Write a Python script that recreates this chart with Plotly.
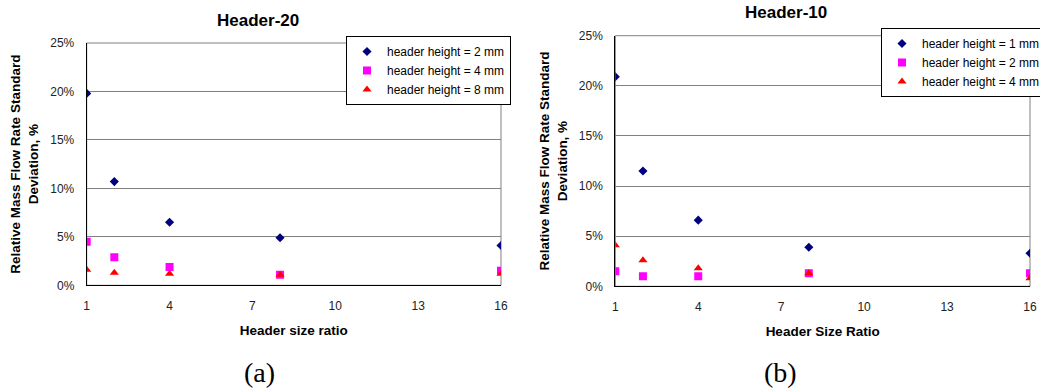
import plotly.graph_objects as go

# Header size ratio (x positions shared by both panels)
size_ratio = [1, 2, 4, 8, 16]

# Panel (a): Header-20, relative mass flow rate standard deviation (fraction)
h20_names = ["header height = 2 mm", "header height = 4 mm", "header height = 8 mm"]
h20_2mm = [0.198, 0.107, 0.065, 0.049, 0.041]
h20_4mm = [0.045, 0.029, 0.019, 0.011, 0.015]
h20_8mm = [0.016, 0.013, 0.012, 0.011, 0.012]

# Panel (b): Header-10
h10_names = ["header height = 1 mm", "header height = 2 mm", "header height = 4 mm"]
h10_1mm = [0.209, 0.115, 0.066, 0.039, 0.033]
h10_2mm = [0.015, 0.010, 0.010, 0.013, 0.013]
h10_4mm = [0.041, 0.026, 0.018, 0.013, 0.008]

x_ticks = [1, 4, 7, 10, 13, 16]

FONT = "Liberation Sans, Arial, sans-serif"
SERIF = "Liberation Serif, Times New Roman, serif"
W, H = 1040, 392

marker_styles = [
    dict(symbol="diamond", color="#000080", size=7),
    dict(symbol="square", color="#FF00FF", size=8),
    dict(symbol="triangle-up", color="#FF0000", size=8),
]

fig = go.Figure()


def add_panel(series, names, xa, ya, legend):
    for i, (vals, name) in enumerate(zip(series, names)):
        fig.add_trace(go.Scatter(
            x=size_ratio, y=vals, mode="markers", name=name,
            marker=dict(symbol=marker_styles[i]["symbol"],
                        color=marker_styles[i]["color"],
                        size=marker_styles[i]["size"],
                        line=dict(width=0)),
            xaxis=xa, yaxis=ya, legend=legend,
            legendgroup=f"{legend}_{i}",
        ))


add_panel([h20_2mm, h20_4mm, h20_8mm], h20_names, "x", "y", "legend")
add_panel([h10_1mm, h10_2mm, h10_4mm], h10_names, "x2", "y2", "legend2")

# Plot-area pixel boxes
left_box = (86.7, 501.0, 43.0, 285.3)
right_box = (615.3, 1030.0, 35.7, 286.3)


def xdom(b):
    return [b[0] / W, b[1] / W]


def ydom(b):
    return [1 - b[3] / H, 1 - b[2] / H]


tick_font = dict(family=FONT, size=12, color="#222222")
title_font = dict(family=FONT, size=13.5, color="black")

common_x = dict(range=[1, 16], tickvals=x_ticks, showgrid=False, zeroline=False,
                showline=True, linecolor="black", linewidth=1,
                tickfont=tick_font, ticks="", ticklabelstandoff=9,
                title_font=title_font, title_standoff=13, fixedrange=True)
common_y = dict(range=[0, 0.25], dtick=0.05, tickformat=".0%", showgrid=True,
                gridcolor="#808080", gridwidth=1, zeroline=False,
                showline=True, linecolor="black", linewidth=1,
                tickfont=tick_font, ticks="", ticklabelstandoff=9,
                title_font=title_font, title_standoff=8, fixedrange=True)

ytitle = "<b>Relative Mass Flow Rate Standard<br>Deviation, %</b>"
legend_font = dict(family=FONT, size=12, color="black")

fig.update_layout(
    width=W, height=H,
    margin=dict(l=0, r=0, t=0, b=0, autoexpand=False),
    paper_bgcolor="white", plot_bgcolor="white",
    font=dict(family=FONT),
    xaxis=dict(common_x, domain=xdom(left_box), anchor="y",
               title_text="<b>Header size ratio</b>"),
    yaxis=dict(common_y, domain=ydom(left_box), anchor="x", title_text=ytitle),
    xaxis2=dict(common_x, domain=xdom(right_box), anchor="y2",
                title_text="<b>Header Size Ratio</b>"),
    yaxis2=dict(common_y, domain=ydom(right_box), anchor="x2", title_text=ytitle),
    legend=dict(x=511 / W, y=1 - 36 / H, xanchor="right", yanchor="top",
                bgcolor="white", bordercolor="black", borderwidth=1,
                font=legend_font, tracegroupgap=0, itemwidth=30),
    legend2=dict(x=1046 / W, y=1 - 28 / H, xanchor="right", yanchor="top",
                 bgcolor="white", bordercolor="black", borderwidth=1,
                 font=legend_font, tracegroupgap=0, itemwidth=30),
    showlegend=True,
)

# Gray plot-area frame on top and right sides
for xr, yr in (("x domain", "y domain"), ("x2 domain", "y2 domain")):
    fig.add_shape(type="rect", xref=xr, yref=yr, x0=0, x1=1, y0=0, y1=1,
                  line=dict(color="#808080", width=1), layer="below")

# Panel titles and sub-captions
titles = [("<b>Header-20</b>", 257.7, 20.7), ("<b>Header-10</b>", 785.7, 12.3)]
for text, px, py in titles:
    fig.add_annotation(text=text, x=px / W, y=1 - py / H, xref="paper", yref="paper",
                       xanchor="center", yanchor="middle", showarrow=False,
                       font=dict(family=FONT, size=17, color="black"))

captions = [("(a)", 259.5, 372), ("(b)", 780, 372)]
for text, px, py in captions:
    fig.add_annotation(text=text, x=px / W, y=1 - py / H, xref="paper", yref="paper",
                       xanchor="center", yanchor="middle", showarrow=False,
                       font=dict(family=SERIF, size=28, color="black"))

fig.write_html("out.html")
